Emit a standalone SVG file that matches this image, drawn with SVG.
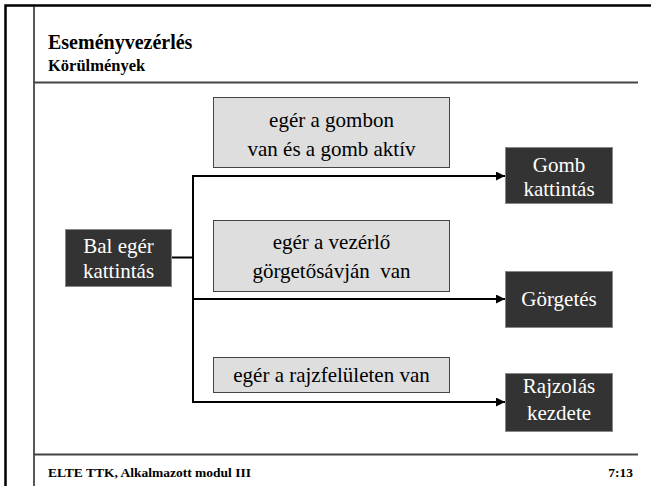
<svg xmlns="http://www.w3.org/2000/svg" width="651" height="486" viewBox="0 0 651 486">
<style>
.frame{stroke:#000;stroke-width:2.5;fill:none}
.rule{stroke:#444;stroke-width:2;fill:none}
.inner{stroke:#222;stroke-width:1.5;fill:none}
.cond{fill:#dedede;stroke:#444;stroke-width:1}
.evt{fill:#333;stroke:#888;stroke-width:1}
.t{font-family:"Liberation Serif","Times New Roman",serif;font-size:21px;text-anchor:middle}
.h{font-family:"Liberation Serif","Times New Roman",serif;font-weight:bold;fill:#000}
.dk{fill:#000}
.lt{fill:#fff}
.conn{stroke:#000;stroke-width:2;fill:none}
</style>
<defs>
<marker id="ah" viewBox="0 0 10 10" refX="10" refY="5" markerWidth="5" markerHeight="4.5" orient="auto" markerUnits="strokeWidth">
<path d="M0,0 L10,5 L0,10 z" fill="#000"/>
</marker>
</defs>
<rect width="651" height="486" fill="#fff"/>
<g id="frame">
<path class="frame" d="M5.5,486 V5.5 H651"/>
<line class="inner" x1="34" y1="6" x2="34" y2="486"/>
<line class="rule" x1="34" y1="82.5" x2="638" y2="82.5"/>
<line class="rule" x1="34" y1="454.5" x2="638" y2="454.5"/>
<text class="h" x="48" y="49" font-size="20">Eseményvezérlés</text>
<text class="h" x="48" y="71" font-size="16.5">Körülmények</text>
<text class="h" x="48" y="477" font-size="13.5">ELTE TTK, Alkalmazott modul III</text>
<text class="h" x="633" y="477" font-size="13.5" text-anchor="end">7:13</text>
</g>
<g id="connectors">
<line class="conn" x1="172" y1="257.5" x2="193" y2="257.5"/>
<line class="conn" x1="193" y1="175" x2="193" y2="403"/>
<line class="conn" x1="192" y1="176" x2="505" y2="176" marker-end="url(#ah)"/>
<line class="conn" x1="192" y1="299" x2="505" y2="299" marker-end="url(#ah)"/>
<line class="conn" x1="192" y1="402" x2="505" y2="402" marker-end="url(#ah)"/>
</g>
<g id="bal">
<rect class="evt" x="65.5" y="229.5" width="106" height="57"/>
<text class="t lt" x="118.5" y="253">Bal egér</text>
<text class="t lt" x="118.5" y="278">kattintás</text>
</g>
<g id="cond1">
<rect class="cond" x="213.5" y="97.5" width="236" height="70"/>
<text class="t dk" x="331.5" y="127">egér a gombon</text>
<text class="t dk" x="331.5" y="156">van és a gomb aktív</text>
</g>
<g id="cond2">
<rect class="cond" x="213.5" y="220.5" width="236" height="71"/>
<text class="t dk" x="331.5" y="249">egér a vezérlő</text>
<text class="t dk" x="331.5" y="278" xml:space="preserve">görgetősávján  van</text>
</g>
<g id="cond3">
<rect class="cond" x="213.5" y="357.5" width="236" height="35"/>
<text class="t dk" x="331.5" y="382">egér a rajzfelületen van</text>
</g>
<g id="gomb">
<rect class="evt" x="505.5" y="147.5" width="107" height="56"/>
<text class="t lt" x="559" y="172">Gomb</text>
<text class="t lt" x="559" y="196">kattintás</text>
</g>
<g id="gorgetes">
<rect class="evt" x="505.5" y="271.5" width="107" height="56"/>
<text class="t lt" x="559" y="306">Görgetés</text>
</g>
<g id="rajzolas">
<rect class="evt" x="505.5" y="373.5" width="107" height="58"/>
<text class="t lt" x="559" y="393">Rajzolás</text>
<text class="t lt" x="559" y="420">kezdete</text>
</g>
</svg>
